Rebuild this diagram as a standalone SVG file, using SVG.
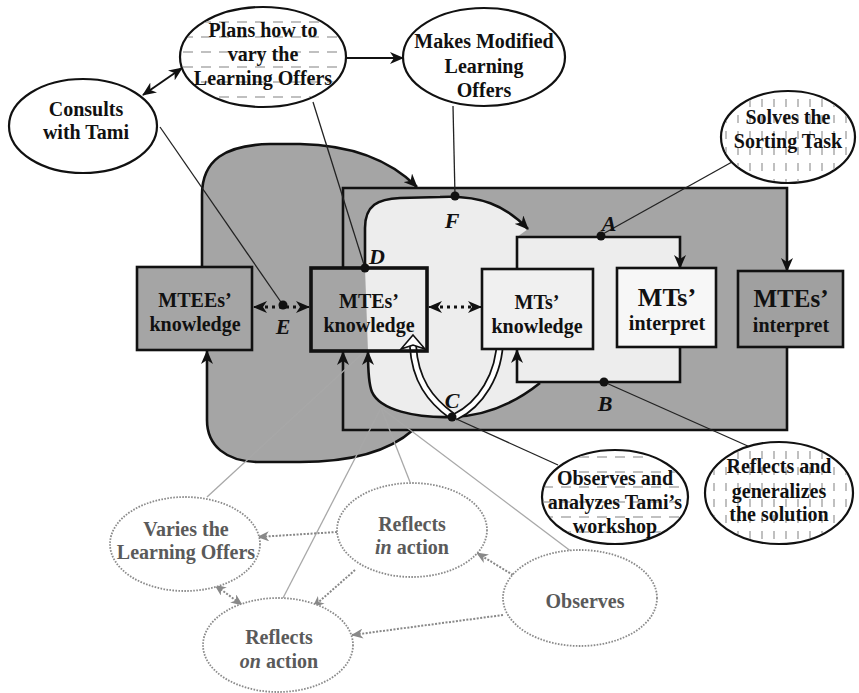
<svg xmlns="http://www.w3.org/2000/svg" width="859" height="693" viewBox="0 0 859 693">
<style>
text{font-family:"Liberation Serif","Times New Roman",serif;font-weight:bold;text-anchor:middle}
.t{font-size:20px;fill:#111}
.tg{font-size:20px;fill:#5a5a5a}
.lbl{font-size:22px;font-style:italic;fill:#111}
.el{fill:#fff;stroke:#111;stroke-width:2.2}
.elg{fill:#fff;stroke:#8a8a8a;stroke-width:1.8;stroke-dasharray:1.6 1.4}
.box{stroke:#111;stroke-width:2.6}
.loop{fill:none;stroke:#111;stroke-width:2.6}
.thin{fill:none;stroke:#222;stroke-width:1.3}
.gline{fill:none;stroke:#a8a8a8;stroke-width:1.3}
.gdot{fill:none;stroke:#888;stroke-width:2;stroke-dasharray:2 1.5}
.dotted{fill:none;stroke:#111;stroke-width:3.2;stroke-dasharray:3 4}
.dot{fill:#111}
</style>
<defs>
<marker id="ah" markerUnits="userSpaceOnUse" markerWidth="14" markerHeight="12" viewBox="0 0 14 12" refX="13" refY="6" orient="auto-start-reverse"><path d="M0,0 L14,6 L0,12 L4,6 z" fill="#111"/></marker>
<marker id="ahg" markerUnits="userSpaceOnUse" markerWidth="12" markerHeight="10" viewBox="0 0 12 10" refX="11" refY="5" orient="auto-start-reverse"><path d="M0,0 L12,5 L0,10 L3.5,5 z" fill="#888"/></marker>
<pattern id="hh" patternUnits="userSpaceOnUse" width="18" height="15"><line x1="3" y1="7" x2="13" y2="7" stroke="#b0b0b0" stroke-width="1.6"/></pattern>
<pattern id="vh" patternUnits="userSpaceOnUse" width="12" height="16"><line x1="6" y1="3" x2="6" y2="11" stroke="#b0b0b0" stroke-width="1.6"/></pattern>
</defs>
<rect width="859" height="693" fill="#fff"/>

<g id="regions">
<path d="M202,268 L202,195 C202,160 225,145 270,144 L300,144 C350,145 390,160 417,188 L413,430 C385,455 340,462 300,462 L260,462 C225,462 207,445 207,420 L207,350 L202,350 Z" fill="#a5a5a5"/>
<rect x="343" y="188" width="444" height="242" fill="#a5a5a5"/>
<path d="M365,268 L365,228 C365,205 378,199 400,198 L440,197 C480,195 505,205 528,229 L517,237 L680,237 L680,382 L540,382 C515,403 485,416 452,417 C415,418 380,410 372,392 C369,385 368,370 368,352 Z" fill="#ededed"/>
</g>

<g id="connectors">
<!-- outer MTEE loop -->
<path class="loop" d="M202,268 L202,195 C202,160 225,145 270,144 L300,144 C350,145 390,160 417,187" marker-end="url(#ah)"/>
<path class="loop" d="M413,430 C385,455 340,462 300,462 L260,462 C225,462 207,445 207,420 L207,351" marker-end="url(#ah)"/>
<!-- MTE loop -->
<path class="loop" d="M343,268 L343,188 L787,188 L787,271" marker-end="url(#ah)"/>
<path class="loop" d="M787,347 L787,430 L343,430 L343,352" marker-end="url(#ah)"/>
<!-- MT blob loop -->
<path class="loop" d="M365,268 L365,228 C365,205 378,199 400,198 L440,197 C480,195 505,205 528,229" marker-end="url(#ah)"/>
<path class="loop" d="M540,383 C515,403 485,416 452,417 C415,418 380,410 372,392 C369,385 368,370 368,352" marker-end="url(#ah)"/>
<!-- MT inner rect loop -->
<path class="loop" d="M517,269 L517,237 L680,237 L680,268" marker-end="url(#ah)"/>
<path class="loop" d="M680,347 L680,382 L517,382 L517,350" marker-end="url(#ah)"/>
<!-- hollow double-line arrows -->
<path d="M452,416 C430,400 415,380 413,346" fill="none" stroke="#111" stroke-width="8"/>
<path d="M452,416 C430,400 415,380 413,346" fill="none" stroke="#fff" stroke-width="4.5"/>
<path d="M500,338 C500,375 480,405 455,417" fill="none" stroke="#111" stroke-width="8"/>
<path d="M500,338 C500,375 480,405 455,417" fill="none" stroke="#fff" stroke-width="4.5"/>
<polygon points="413,335 425,349 413,345 401,349" fill="#fff" stroke="#111" stroke-width="1.6"/>
<!-- dotted double arrows -->
<line class="dotted" x1="258" y1="307" x2="305" y2="307"/>
<line x1="262" y1="307" x2="254" y2="307" stroke="#111" stroke-width="2" marker-end="url(#ah)"/>
<line x1="301" y1="307" x2="309" y2="307" stroke="#111" stroke-width="2" marker-end="url(#ah)"/>
<line class="dotted" x1="433" y1="307" x2="477" y2="307"/>
<line x1="437" y1="307" x2="429" y2="307" stroke="#111" stroke-width="2" marker-end="url(#ah)"/>
<line x1="473" y1="307" x2="481" y2="307" stroke="#111" stroke-width="2" marker-end="url(#ah)"/>
<!-- top connectors -->
<line x1="143" y1="95" x2="182" y2="68" stroke="#111" stroke-width="2" marker-start="url(#ah)" marker-end="url(#ah)"/>
<line x1="347" y1="58" x2="403" y2="58" stroke="#111" stroke-width="2" marker-end="url(#ah)"/>
<line class="thin" x1="160" y1="127" x2="283" y2="305"/>
<line class="thin" x1="313" y1="102" x2="365" y2="268"/>
<line class="thin" x1="453" y1="106" x2="455" y2="196"/>
<line class="thin" x1="732" y1="162" x2="601" y2="235"/>
<line class="thin" x1="452" y1="417" x2="558" y2="465"/>
<line class="thin" x1="604" y1="382" x2="750" y2="447"/>
<!-- gray lines -->
<line class="gline" x1="207" y1="497" x2="363" y2="353"/>
<line class="gline" x1="381" y1="408" x2="283" y2="598"/>
<line class="gline" x1="381" y1="408" x2="410" y2="482"/>
<line class="gline" x1="381" y1="408" x2="572" y2="552"/>
<!-- gray dotted arrows -->
<line class="gdot" x1="337" y1="532" x2="258" y2="537" marker-end="url(#ahg)"/>
<line class="gdot" x1="215" y1="585" x2="242" y2="605" marker-start="url(#ahg)" marker-end="url(#ahg)"/>
<line class="gdot" x1="355" y1="570" x2="313" y2="607" marker-end="url(#ahg)"/>
<line class="gdot" x1="513" y1="575" x2="477" y2="553" marker-end="url(#ahg)"/>
<line class="gdot" x1="503" y1="615" x2="352" y2="635" marker-end="url(#ahg)"/>
</g>

<g id="mtees-knowledge"><rect class="box" x="137" y="267" width="115" height="83" fill="#a5a5a5"/><text class="t" x="195" y="307">MTEEs’</text><text class="t" x="195" y="331">knowledge</text></g>
<g id="mtes-knowledge"><rect x="311" y="268" width="116" height="83" fill="none" stroke="#111" stroke-width="3.6"/><text class="t" x="369" y="308">MTEs’</text><text class="t" x="369" y="332">knowledge</text></g>
<g id="mts-knowledge"><rect class="box" x="482" y="269" width="111" height="80" fill="#f0f0f0"/><text class="t" x="537" y="309">MTs’</text><text class="t" x="537" y="333">knowledge</text></g>
<g id="mts-interpret"><rect class="box" x="617" y="268" width="99" height="79" fill="#f7f7f7"/><text x="667" y="306" style="font-size:26px;fill:#111">MTs’</text><text class="t" x="667" y="330">interpret</text></g>
<g id="mtes-interpret"><rect class="box" x="738" y="271" width="105" height="76" fill="#a0a0a0"/><text x="791" y="307" style="font-size:25px;fill:#111">MTEs’</text><text class="t" x="791" y="332">interpret</text></g>

<g id="points">
<circle class="dot" cx="601" cy="236" r="4.5"/><text class="lbl" x="609" y="231">A</text>
<circle class="dot" cx="604" cy="382" r="4.5"/><text class="lbl" x="605" y="411">B</text>
<circle class="dot" cx="452" cy="417" r="4.5"/><text class="lbl" x="452" y="408">C</text>
<circle class="dot" cx="365" cy="268" r="4.5"/><text class="lbl" x="377" y="264">D</text>
<circle class="dot" cx="283" cy="305" r="4.5"/><text class="lbl" x="283" y="334">E</text>
<circle class="dot" cx="455" cy="196" r="4.5"/><text class="lbl" x="452" y="228">F</text>
</g>

<g id="consults"><ellipse class="el" cx="83" cy="126" rx="74" ry="47"/><text class="t" x="86" y="116">Consults</text><text class="t" x="86" y="139">with Tami</text></g>
<g id="plans"><ellipse class="el" cx="263" cy="57" rx="83" ry="50"/><ellipse cx="263" cy="57" rx="82" ry="49" fill="url(#hh)"/><text class="t" x="263" y="37">Plans how to</text><text class="t" x="263" y="61">vary the</text><text class="t" x="263" y="85">Learning Offers</text></g>
<g id="makes"><ellipse class="el" cx="484" cy="57" rx="81" ry="49"/><text class="t" x="484" y="48">Makes Modified</text><text class="t" x="484" y="73">Learning</text><text class="t" x="484" y="97">Offers</text></g>
<g id="solves"><ellipse class="el" cx="788" cy="137" rx="67" ry="46"/><ellipse cx="788" cy="137" rx="66" ry="45" fill="url(#vh)"/><text class="t" x="788" y="124">Solves the</text><text class="t" x="788" y="148">Sorting Task</text></g>
<g id="observes-analyzes"><ellipse class="el" cx="615" cy="497" rx="73" ry="47"/><ellipse cx="615" cy="497" rx="72" ry="46" fill="url(#hh)"/><text class="t" x="615" y="485">Observes and</text><text class="t" x="615" y="509">analyzes Tami’s</text><text class="t" x="615" y="533">workshop</text></g>
<g id="reflects-generalizes"><ellipse class="el" cx="779" cy="493" rx="74" ry="51"/><ellipse cx="779" cy="493" rx="73" ry="50" fill="url(#vh)"/><text class="t" x="779" y="473">Reflects and</text><text class="t" x="779" y="498">generalizes</text><text class="t" x="779" y="521">the solution</text></g>

<g id="varies"><ellipse class="elg" cx="185" cy="544" rx="75" ry="47"/><text class="tg" x="186" y="536">Varies the</text><text class="tg" x="186" y="559">Learning Offers</text></g>
<g id="reflects-in"><ellipse class="elg" cx="412" cy="530" rx="75" ry="47"/><text class="tg" x="412" y="531">Reflects</text><text class="tg" x="412" y="554"><tspan font-style="italic">in</tspan> action</text></g>
<g id="reflects-on"><ellipse class="elg" cx="278" cy="645" rx="75" ry="47"/><text class="tg" x="279" y="644">Reflects</text><text class="tg" x="279" y="668"><tspan font-style="italic">on</tspan> action</text></g>
<g id="observes"><ellipse class="elg" cx="580" cy="598" rx="77" ry="48"/><text class="tg" x="585" y="608">Observes</text></g>
</svg>
